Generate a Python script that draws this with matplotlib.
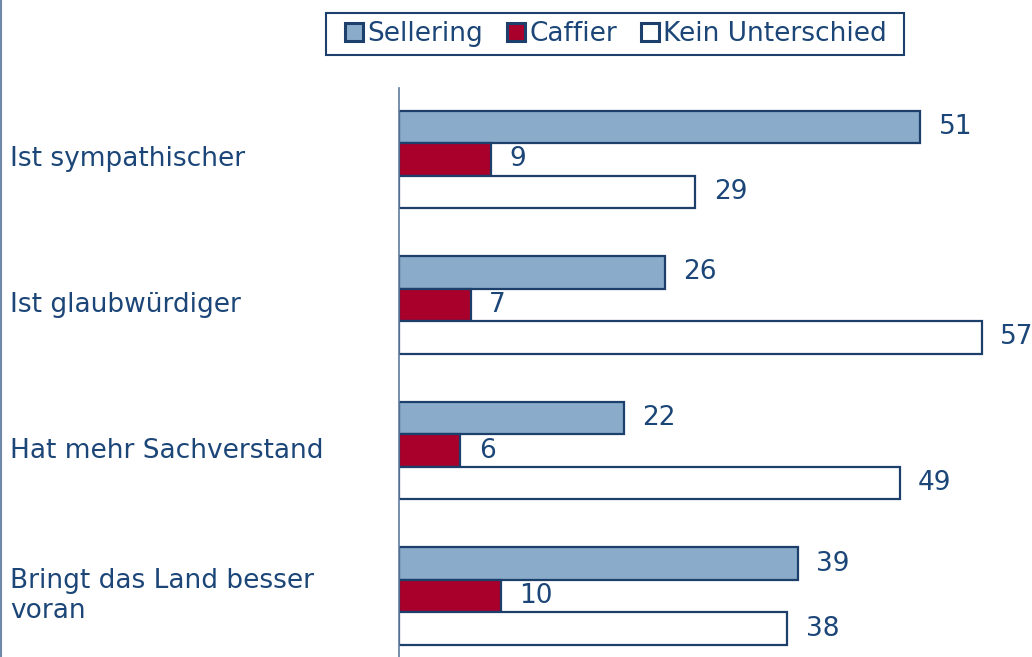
import numpy as np
import matplotlib
matplotlib.use('Agg')
import matplotlib.pyplot as plt
from matplotlib.lines import Line2D
from matplotlib.patches import Rectangle

categories = ['Ist sympathischer', 'Ist glaubwürdiger', 'Hat mehr Sachverstand',
              'Bringt das Land besser\nvoran']
series_names = ['Sellering', 'Caffier', 'Kein Unterschied']
sellering = [51, 26, 22, 39]
caffier = [9, 7, 6, 10]
kein = [29, 57, 49, 38]

txt_col = '#1B4677'
edge_col = '#1C3F6B'
fills = ['#8AABC9', '#A8002B', '#FFFFFF']
fs = 19

plt.rcParams['font.family'] = ['DejaVu Sans']

fig = plt.figure(figsize=(10.32, 6.57), dpi=100)
ax = fig.add_axes([399 / 1032, 0, (1032 - 399) / 1032, (657 - 88) / 657])

y = np.arange(len(categories))
h = 32.5 / 145.5
for k, vals in enumerate([sellering, caffier, kein]):
    pos = y + (k - 1) * h
    ax.barh(pos, vals, height=h, color=fills[k], edgecolor=edge_col,
            linewidth=1.6, label=series_names[k])
    for p, v in zip(pos, vals):
        ax.text(v + 1.8, p, str(v), va='center', ha='left', fontsize=fs,
                color=txt_col)

ax.set_xlim(0, (1032 - 399) / 10.22)
ax.set_ylim(3.419, -0.491)
for s in ['top', 'right', 'bottom']:
    ax.spines[s].set_visible(False)
ax.spines['left'].set_color('#5F7A9E')
ax.spines['left'].set_linewidth(1.2)
ax.set_xticks([])
ax.set_yticks([])

for i, c in enumerate(categories):
    fig.text(10 / 1032, 1 - (159.5 + 145.5 * i) / 657, c, ha='left', va='center',
             fontsize=fs, color=txt_col, linespacing=1.15)

fig.add_artist(Line2D([1 / 1032, 1 / 1032], [0, 1], color='#6F88A8', lw=1.5))

# legend box drawn separately so the side padding matches
fig.add_artist(Rectangle((326 / 1032, 1 - 55 / 657), 578 / 1032, 42 / 657,
                         transform=fig.transFigure, fill=False,
                         edgecolor=edge_col, lw=1.5))
leg = fig.legend(loc='center', bbox_to_anchor=(616 / 1032, 1 - 34 / 657), ncol=3,
                 fontsize=fs, frameon=False, handlelength=0.7,
                 handleheight=0.7, handletextpad=0.15, columnspacing=0.9,
                 borderpad=0.2, borderaxespad=0)
for hd in leg.legend_handles:
    hd.set_linewidth(2.2)
for t in leg.get_texts():
    t.set_color(txt_col)

fig.savefig('out.png', dpi=100)
